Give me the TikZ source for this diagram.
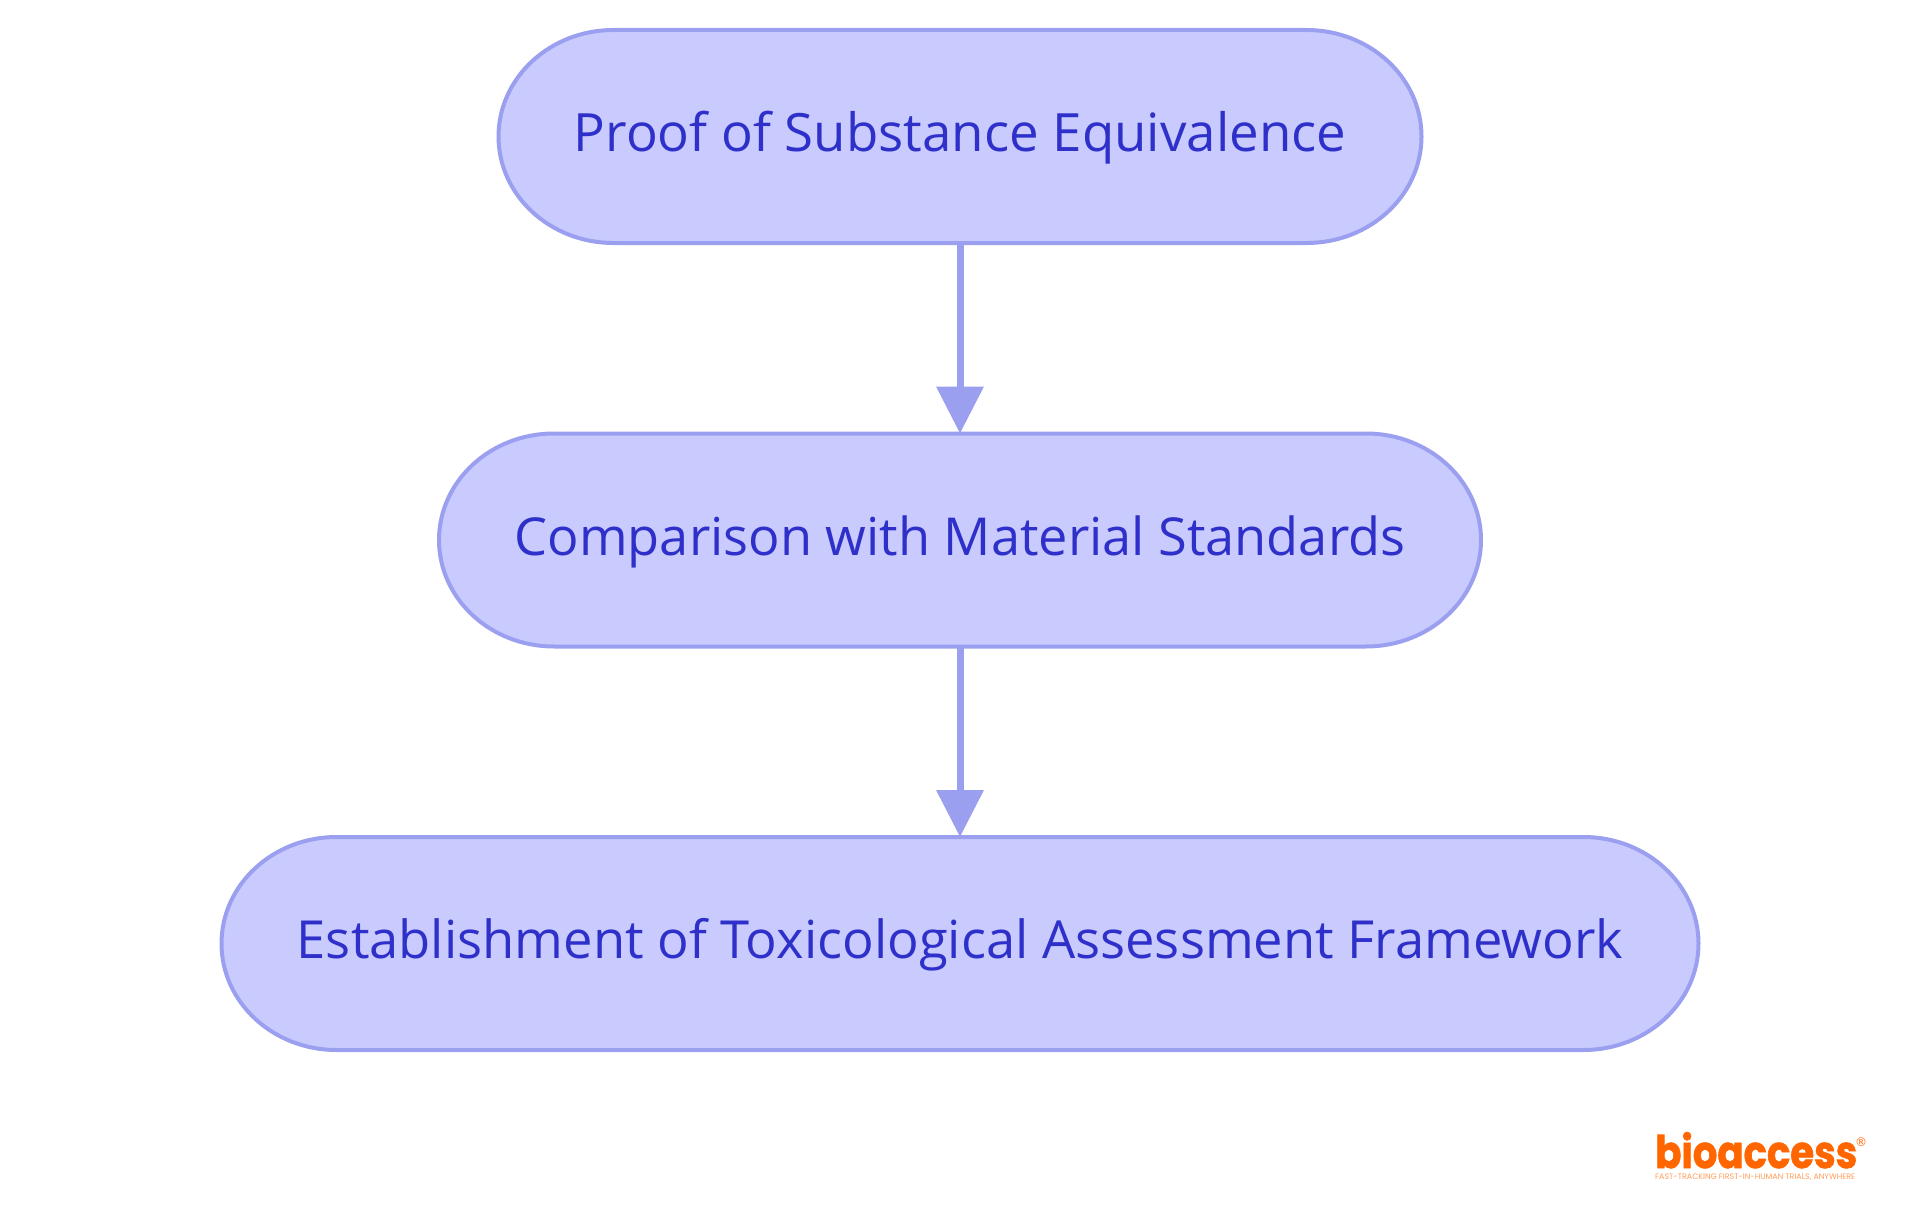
\documentclass[tikz,border=0pt]{standalone}
\usepackage{fontspec}
\setmainfont{Open Sans}
\newfontfamily\logofont{Poppins}
\newfontfamily\regfont{DejaVu Sans}
\usetikzlibrary{arrows.meta,backgrounds}
\definecolor{boxfill}{HTML}{C9CBFE}
\definecolor{boxline}{HTML}{9B9FF0}
\definecolor{boxtext}{HTML}{2F30C9}
\definecolor{logoorange}{HTML}{FF6600}
\tikzset{
  flowbox/.style={minimum height=213pt,outer sep=0pt,inner sep=0pt,text=boxtext,text height=42pt,text depth=12pt,align=center},
  pillshape/.style={draw=boxline,fill=boxfill,line width=4pt},
  flowarrow/.style={draw=boxline,line width=7pt,-{Triangle[length=47pt,width=46pt]},color=boxline},
  logotext/.style={anchor=base west,inner sep=0pt,text=logoorange}
}
\newcommand{\pillback}[1]{%
  \begin{scope}[on background layer]
  \draw[pillshape] (#1.west)
    .. controls +(0,-58.8) and +(-63.5,0) .. ([xshift=115pt]#1.north west)
    -- ([xshift=-115pt]#1.north east)
    .. controls +(63.5,0) and +(0,-58.8) .. (#1.east)
    .. controls +(0,58.8) and +(63.5,0) .. ([xshift=-115pt]#1.south east)
    -- ([xshift=115pt]#1.south west)
    .. controls +(-63.5,0) and +(0,58.8) .. cycle;
  \end{scope}}
\begin{document}
\begin{tikzpicture}[x=1pt,y=-1pt]
\useasboundingbox (0,0) rectangle (1920,1215);
\node[flowbox,minimum width=923pt,font=\fontsize{52.8}{60}\selectfont] (a) at (960,136.5) {Proof of Substance Equivalence};
\node[flowbox,minimum width=1042pt,font=\fontsize{52.3}{60}\selectfont] (b) at (960,540) {Comparison with Material Standards};
\node[flowbox,minimum width=1477pt,font=\fontsize{52.5}{60}\selectfont] (c) at (960,943.5) {Establishment of Toxicological Assessment Framework};
\pillback{a}
\pillback{b}
\pillback{c}
\draw[flowarrow] (a) -- (b);
\draw[flowarrow] (b) -- (c);
\node[logotext,font=\logofont\bfseries\addfontfeature{FakeBold=1.5}\fontsize{48}{56}\selectfont] (logo) at (1655,1168) {\raisebox{0pt}[36pt][0pt]{\resizebox{202pt}{36pt}{bioaccess}}};
\node[anchor=center,inner sep=0pt,text=logoorange,font=\regfont\fontsize{12}{12}\selectfont] (reg) at (1861,1142) {®};
\node[logotext,text=logoorange!65,font=\logofont\fontsize{7.5}{9}\selectfont] (tag) at (1655,1179) {\resizebox{200pt}{!}{FAST-TRACKING FIRST-IN-HUMAN TRIALS, ANYWHERE}};
\end{tikzpicture}
\end{document}
